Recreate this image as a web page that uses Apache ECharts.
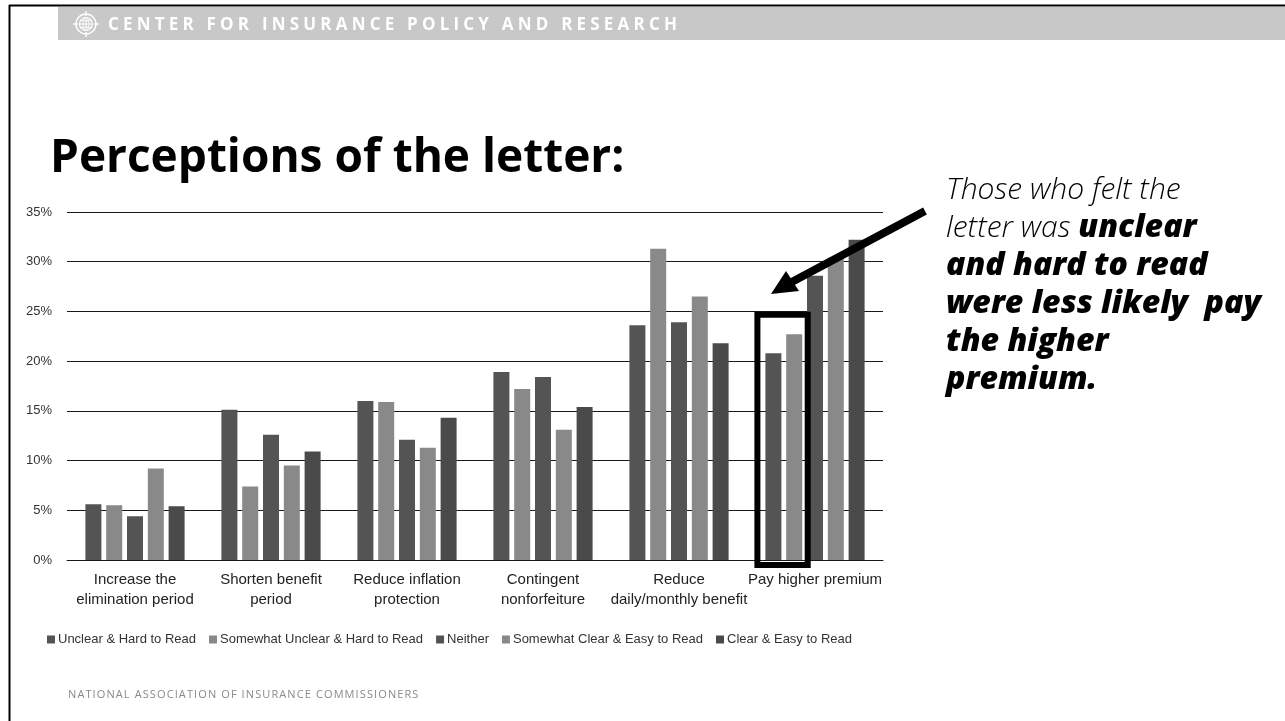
<!DOCTYPE html>
<html>
<head>
<meta charset="utf-8">
<script src="https://cdn.jsdelivr.net/npm/echarts@6/dist/echarts.min.js"></script>
<style>
  html, body { margin: 0; padding: 0; background: #fff; }
  #wrap { position: relative; width: 1285px; height: 721px; overflow: hidden; }
  #chart { position: absolute; left: 0; top: 0; width: 1285px; height: 721px; }
  .band-text { position: absolute; left: 108px; top: 12px; font: 700 17px 'Open Sans', sans-serif;
    letter-spacing: 4.2px; color: #fff; white-space: nowrap; line-height: 24px; pointer-events: none; }
  .foot { position: absolute; left: 68px; top: 687px; font: 400 11px 'Open Sans', sans-serif;
    letter-spacing: 1.1px; color: #8a8a8a; white-space: nowrap; line-height: 14px; pointer-events: none; }
</style>
</head>
<body>
<div id="wrap">
  <div id="chart"></div>
  <div class="band-text">CENTER FOR INSURANCE POLICY AND RESEARCH</div>
  <div class="foot">NATIONAL ASSOCIATION OF INSURANCE COMMISSIONERS</div>
</div>
<script>
// Response options (x-axis categories)
const categories = [
  'Increase the\nelimination period',
  'Shorten benefit\nperiod',
  'Reduce inflation\nprotection',
  'Contingent\nnonforfeiture',
  'Reduce\ndaily/monthly benefit',
  'Pay higher premium'
];

// Share of respondents (%) by how clear the letter felt
const unclearHard         = [5.6, 15.1, 16.0, 18.9, 23.6, 20.8];
const somewhatUnclearHard = [5.5, 7.4, 15.9, 17.2, 31.3, 22.7];
const neither             = [4.4, 12.6, 12.1, 18.4, 23.9, 28.6];
const somewhatClearEasy   = [9.2, 9.5, 11.3, 13.1, 26.5, 30.4];
const clearEasy           = [5.4, 10.9, 14.3, 15.4, 21.8, 32.2];

const seriesNames = [
  'Unclear & Hard to Read',
  'Somewhat Unclear & Hard to Read',
  'Neither',
  'Somewhat Clear & Easy to Read',
  'Clear & Easy to Read'
];
const seriesValues = [unclearHard, somewhatUnclearHard, neither, somewhatClearEasy, clearEasy];
const seriesColors = ['#545454', '#898989', '#545454', '#898989', '#4a4a4a'];

const yTicks = { min: 0, max: 35, interval: 5 };

const BAR_W = 16;
const BAR_GAP = 0.3;

const chart = echarts.init(document.getElementById('chart'), null, { renderer: 'canvas' });

chart.setOption({
  animation: false,
  backgroundColor: 'transparent',
  grid: { left: 67, right: 402, top: 212, bottom: 161, containLabel: false },
  legend: {
    left: 47, top: 633, padding: 0,
    icon: 'rect', itemWidth: 8, itemHeight: 8, itemGap: 13,
    textStyle: { fontFamily: 'Liberation Sans, Arial, sans-serif', fontSize: 13, color: '#333', padding: [0, 0, 0, -2] },
    data: seriesNames
  },
  xAxis: {
    type: 'category',
    data: categories,
    axisLine: { show: true, lineStyle: { color: '#1a1a1a', width: 1 } },
    axisTick: { show: false },
    axisLabel: {
      interval: 0, margin: 10,
      fontFamily: 'Liberation Sans, Arial, sans-serif',
      fontSize: 15, lineHeight: 20, color: '#222'
    }
  },
  yAxis: {
    type: 'value',
    min: yTicks.min, max: yTicks.max, interval: yTicks.interval,
    axisLine: { show: false },
    axisTick: { show: false },
    axisLabel: {
      formatter: '{value}%', margin: 15,
      fontFamily: 'Liberation Sans, Arial, sans-serif', fontSize: 13, color: '#333'
    },
    splitLine: { lineStyle: { color: '#1a1a1a', width: 1 } }
  },
  series: seriesNames.map((name, i) => ({
    name,
    type: 'bar',
    data: seriesValues[i],
    barWidth: BAR_W,
    barGap: (BAR_GAP * 100) + '%',
    itemStyle: { color: seriesColors[i] },
    emphasis: { disabled: true }
  }))
});

// Slide decoration, header band, globe icon, title and callout
const globe = {
  type: 'group', x: 86, y: 24,
  children: [
    { type: 'circle', shape: { cx: 0, cy: 0, r: 10 }, style: { fill: 'none', stroke: '#fff', lineWidth: 1.4 } },
    { type: 'line', shape: { x1: 0, y1: -13, x2: 0, y2: -8 }, style: { stroke: '#fff', lineWidth: 1.4 } },
    { type: 'line', shape: { x1: 0, y1: 8, x2: 0, y2: 13 }, style: { stroke: '#fff', lineWidth: 1.4 } },
    { type: 'line', shape: { x1: -13, y1: 0, x2: -8, y2: 0 }, style: { stroke: '#fff', lineWidth: 1.4 } },
    { type: 'line', shape: { x1: 8, y1: 0, x2: 13, y2: 0 }, style: { stroke: '#fff', lineWidth: 1.4 } },
    { type: 'circle', shape: { cx: 0, cy: 0, r: 6.5 }, style: { fill: 'none', stroke: '#fff', lineWidth: 1.2 } },
    { type: 'ellipse', shape: { cx: 0, cy: 0, rx: 3, ry: 6.5 }, style: { fill: 'none', stroke: '#fff', lineWidth: 1 } },
    { type: 'line', shape: { x1: 0, y1: -6.5, x2: 0, y2: 6.5 }, style: { stroke: '#fff', lineWidth: 1 } },
    { type: 'line', shape: { x1: -6.5, y1: 0, x2: 6.5, y2: 0 }, style: { stroke: '#fff', lineWidth: 1 } },
    { type: 'line', shape: { x1: -5.6, y1: -3.2, x2: 5.6, y2: -3.2 }, style: { stroke: '#fff', lineWidth: 1 } },
    { type: 'line', shape: { x1: -5.6, y1: 3.2, x2: 5.6, y2: 3.2 }, style: { stroke: '#fff', lineWidth: 1 } }
  ]
};

const decorations = [
  { type: 'rect', shape: { x: 58, y: 7, width: 1227, height: 33 }, style: { fill: '#c8c8c8' }, z: 0 },
  { type: 'line', shape: { x1: 9.5, y1: 5, x2: 9.5, y2: 721 }, style: { stroke: '#000', lineWidth: 2 } },
  { type: 'line', shape: { x1: 9, y1: 5.5, x2: 1285, y2: 5.5 }, style: { stroke: '#000', lineWidth: 2 } },
  globe,
  {
    type: 'text', x: 50, y: 159,
    style: {
      text: 'Perceptions of the letter:',
      fontFamily: 'Open Sans, sans-serif', fontWeight: 'bold', fontSize: 46,
      fill: '#000', verticalAlign: 'middle', align: 'left'
    }
  },
  {
    type: 'text', x: 946, y: 171,
    style: {
      text: '{l|Those who felt the}\n{l|letter was }{b|unclear}\n{b|and hard to read}\n{b|were less likely  pay}\n{b|the higher}\n{b|premium.}',
      rich: {
        l: { fontFamily: 'Open Sans, sans-serif', fontStyle: 'italic', fontWeight: 300, fontSize: 30, lineHeight: 38, fill: '#000' },
        b: { fontFamily: 'Open Sans, sans-serif', fontStyle: 'italic', fontWeight: 800, fontSize: 32, lineHeight: 38, fill: '#000' }
      },
      verticalAlign: 'top', align: 'left'
    }
  },
  // Arrow pointing at the highlighted bars
  { type: 'line', shape: { x1: 925, y1: 211, x2: 788, y2: 284 }, style: { stroke: '#000', lineWidth: 8 }, z: 10 },
  { type: 'polygon', shape: { points: [[771, 294], [786, 271], [799, 291]] }, style: { fill: '#000' }, z: 10 }
];

// Box around the first two bars of the last category
const lastCat = categories[categories.length - 1];
const centre = chart.convertToPixel({ gridIndex: 0 }, [lastCat, 25]);
const zero = chart.convertToPixel({ gridIndex: 0 }, [lastCat, 0]);
const pitch = BAR_W * (1 + BAR_GAP);
const groupW = BAR_W * 5 + BAR_W * BAR_GAP * 4;
const firstLeft = centre[0] - groupW / 2;
const boxLeft = firstLeft - 8;
const boxRight = firstLeft + pitch + BAR_W + 5.5;
const boxTop = centre[1] + 3.3;
const boxBottom = zero[1] + 5;

decorations.push({
  type: 'rect', z: 9,
  shape: { x: boxLeft, y: boxTop, width: boxRight - boxLeft, height: boxBottom - boxTop },
  style: { fill: 'none', stroke: '#000', lineWidth: 6 }
});

chart.setOption({ graphic: decorations });
</script>
</body>
</html>
